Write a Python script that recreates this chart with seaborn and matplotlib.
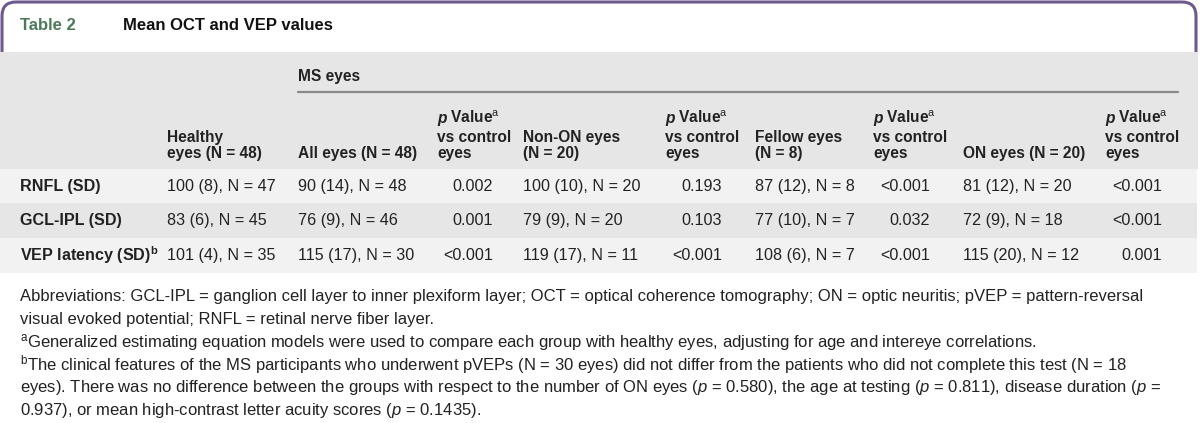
import matplotlib
matplotlib.use("Agg")
import numpy as np
import pandas as pd
import seaborn as sns
import matplotlib.pyplot as plt
from matplotlib.colors import ListedColormap
from matplotlib.patches import FancyBboxPatch, Rectangle

sns.set_theme(style="white")
plt.rcParams["font.family"] = ["Liberation Sans", "DejaVu Sans"]
plt.rcParams["mathtext.fontset"] = "custom"
plt.rcParams["mathtext.rm"] = "Liberation Sans"
plt.rcParams["mathtext.it"] = "Liberation Sans:italic"
plt.rcParams["mathtext.bf"] = "Liberation Sans:bold"

TABLE_NUM = "Table 2"
TITLE = "Mean OCT and VEP values"
GROUP = "MS eyes"

row_labels = ["RNFL (SD)", "GCL-IPL (SD)", r"VEP latency (SD)$^{\mathbf{b}}$"]
healthy = ["100 (8), N = 47", "83 (6), N = 45", "101 (4), N = 35"]
all_eyes = ["90 (14), N = 48", "76 (9), N = 46", "115 (17), N = 30"]
p_all = ["0.002", "0.001", "<0.001"]
non_on = ["100 (10), N = 20", "79 (9), N = 20", "119 (17), N = 11"]
p_non_on = ["0.193", "0.103", "<0.001"]
fellow = ["87 (12), N = 8", "77 (10), N = 7", "108 (6), N = 7"]
p_fellow = ["<0.001", "0.032", "<0.001"]
on_eyes = ["81 (12), N = 20", "72 (9), N = 18", "115 (20), N = 12"]
p_on = ["<0.001", "<0.001", "0.001"]

group_headers = ["Healthy\neyes (N = 48)", "All eyes (N = 48)", "Non-ON eyes\n(N = 20)",
                 "Fellow eyes\n(N = 8)", "ON eyes (N = 20)"]

footnotes = [
    "Abbreviations: GCL-IPL = ganglion cell layer to inner plexiform layer; OCT = optical coherence tomography; ON = optic neuritis; pVEP = pattern-reversal",
    "visual evoked potential; RNFL = retinal nerve fiber layer.",
    r"$^{\mathrm{a}}$Generalized estimating equation models were used to compare each group with healthy eyes, adjusting for age and intereye correlations.",
    r"$^{\mathrm{b}}$The clinical features of the MS participants who underwent pVEPs (N = 30 eyes) did not differ from the patients who did not complete this test (N = 18",
    r"eyes). There was no difference between the groups with respect to the number of ON eyes ($p$ = 0.580), the age at testing ($p$ = 0.811), disease duration ($p$ =",
    r"0.937), or mean high-contrast letter acuity scores ($p$ = 0.1435).",
]

table = pd.DataFrame({
    "label": row_labels, "healthy": healthy,
    "all": all_eyes, "p_all": p_all,
    "non_on": non_on, "p_non_on": p_non_on,
    "fellow": fellow, "p_fellow": p_fellow,
    "on": on_eyes, "p_on": p_on,
})

W, H = 1200, 423
fig = plt.figure(figsize=(W / 100, H / 100), dpi=100)
fig.patch.set_facecolor("white")

# striped body rows drawn as a heatmap
body_top, row_h = 169, 34.5
n = len(table)
ax_rows = fig.add_axes([0, 1 - (body_top + n * row_h) / H, 1197 / W, n * row_h / H])
stripes = np.array([[i % 2] for i in range(n)])
sns.heatmap(stripes, cmap=ListedColormap(["#f2f2f2", "#e6e6e6"]), cbar=False,
            ax=ax_rows, xticklabels=False, yticklabels=False)
ax_rows.set_axis_off()

ax = fig.add_axes([0, 0, 1, 1])
ax.set_xlim(0, W)
ax.set_ylim(H, 0)
ax.patch.set_alpha(0)
ax.set_axis_off()

# title box with rounded top corners
ax.add_patch(FancyBboxPatch((2, 2), 1194, 80, boxstyle="round,pad=0,rounding_size=14",
                            fc="white", ec="#6e5a8c", lw=2.2, zorder=1))
ax.add_patch(Rectangle((0, 52), 1198, body_top - 52, fc="#e6e6e6", ec="none", zorder=2))
ax.text(20, 26, TABLE_NUM, color="#4c7a58", fontsize=12, fontweight="bold", va="center", zorder=3)
ax.text(123, 26, TITLE, color="#111111", fontsize=12, fontweight="bold", va="center", zorder=3)

# header
hdr = dict(fontsize=11.2, fontweight="bold", color="#222222", zorder=3)
ax.text(298, 76, GROUP, va="center", **hdr)
ax.plot([298, 1178], [92, 92], color="#8a8a8a", lw=1.6, zorder=3)

value_x = [167, 298, 523, 755, 963]
p_x = [437, 665, 873, 1105]
p_right = [493, 722, 930, 1162]
base = 158
for x, h in zip(value_x, group_headers):
    ax.text(x, base, h, va="baseline", linespacing=1.1, **hdr)
for x in p_x:
    t = ax.text(x, base - 35, "p", va="baseline", fontstyle="italic", **hdr)
    ax.annotate(r" Value$^{\mathrm{a}}$", xy=(1, 0), xycoords=t, va="bottom", **hdr)
    ax.text(x, base, "vs control\neyes", va="baseline", linespacing=1.1, **hdr)

# body
cell = dict(fontsize=11.6, color="#222222", va="center", zorder=3)
value_cols = ["healthy", "all", "non_on", "fellow", "on"]
p_cols = ["p_all", "p_non_on", "p_fellow", "p_on"]
for i, row in table.iterrows():
    y = body_top + (i + 0.5) * row_h
    ax.text(20, y, row["label"], fontweight="bold", **cell)
    for x, c in zip(value_x, value_cols):
        ax.text(x, y, row[c], **cell)
    for x, c in zip(p_right, p_cols):
        ax.text(x, y, row[c], ha="right", **cell)

# footnotes
for k, line in enumerate(footnotes):
    ax.text(20, 297 + k * 22.6, line, fontsize=12.0, color="#222222", va="center", zorder=3)

fig.savefig("out.png", dpi=100, facecolor="white")
